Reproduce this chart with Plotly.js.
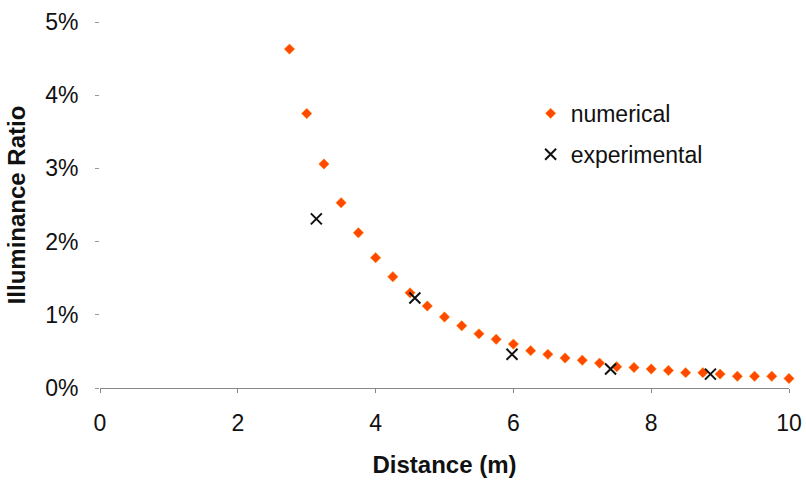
<!DOCTYPE html>
<html><head><meta charset="utf-8">
<script src="https://cdn.plot.ly/plotly-3.0.1.min.js"></script>
<style>body{margin:0;background:#fff}#c{width:806px;height:483px}</style>
</head><body><div id="c"></div>
<script>
const numX = [2.75,3.0,3.25,3.5,3.75,4.0,4.25,4.5,4.75,5.0,5.25,5.5,5.75,6.0,6.25,6.5,6.75,7.0,7.25,7.5,7.75,8.0,8.25,8.5,8.75,9.0,9.25,9.5,9.75,10.0];
const numY = [4.63,3.75,3.06,2.53,2.12,1.78,1.52,1.30,1.12,0.97,0.85,0.74,0.665,0.60,0.51,0.46,0.41,0.38,0.34,0.29,0.28,0.26,0.24,0.21,0.21,0.19,0.16,0.16,0.16,0.13];
const expX = [3.14,4.57,5.98,7.41,8.86];
const expY = [2.31,1.23,0.46,0.26,0.19];
const xTicks = [0,2,4,6,8,10];
const yTicks = [0,1,2,3,4,5];
const yTickText = ['0%','1%','2%','3%','4%','5%'];

const fam = 'Liberation Sans, Arial, sans-serif';
const traces = [
  {x:numX, y:numY, name:'numerical', type:'scatter', mode:'markers', legendgroup:'a',
   cliponaxis:false,
   marker:{symbol:'diamond', size:8, color:'#ff4800', line:{color:'#ff8a00', width:0.5}}},
  {x:expX, y:expY, name:'experimental', type:'scatter', mode:'markers', legendgroup:'b',
   cliponaxis:false,
   marker:{symbol:'x-thin-open', size:11, color:'#111', line:{color:'#111', width:2}}}
];
const layout = {
  width:806, height:483,
  margin:{l:100, r:17, t:22, b:95},
  paper_bgcolor:'#fff', plot_bgcolor:'#fff',
  font:{family:fam, color:'#111', size:23},
  showlegend:true,
  legend:{x:0.625, y:0.809, xanchor:'left', yanchor:'top', bgcolor:'rgba(0,0,0,0)',
          font:{family:fam, size:23, color:'#111'}, tracegroupgap:8, itemwidth:30},
  xaxis:{range:[0,10], tickvals:xTicks, ticktext:xTicks.map(String), showgrid:false, zeroline:false,
         showline:true, linecolor:'#888', linewidth:1, ticks:'outside', ticklen:4, tickcolor:'#888',
         ticklabelstandoff:10, automargin:false,
         tickfont:{family:fam, size:23, color:'#111'},
         title:{text:'<b>Distance (m)</b>', font:{family:fam, size:24, color:'#111'}, standoff:21}},
  yaxis:{range:[0,5], tickvals:yTicks, ticktext:yTickText, showgrid:false, zeroline:false,
         showline:false, ticks:'outside', ticklen:4, tickcolor:'#999',
         ticklabelstandoff:12, automargin:false,
         tickfont:{family:fam, size:23, color:'#111'},
         title:{text:'<b>Illuminance Ratio</b>', font:{family:fam, size:24, color:'#111'}, standoff:12}}
};
Plotly.newPlot('c', traces, layout, {displayModeBar:false, staticPlot:true});
</script></body></html>
